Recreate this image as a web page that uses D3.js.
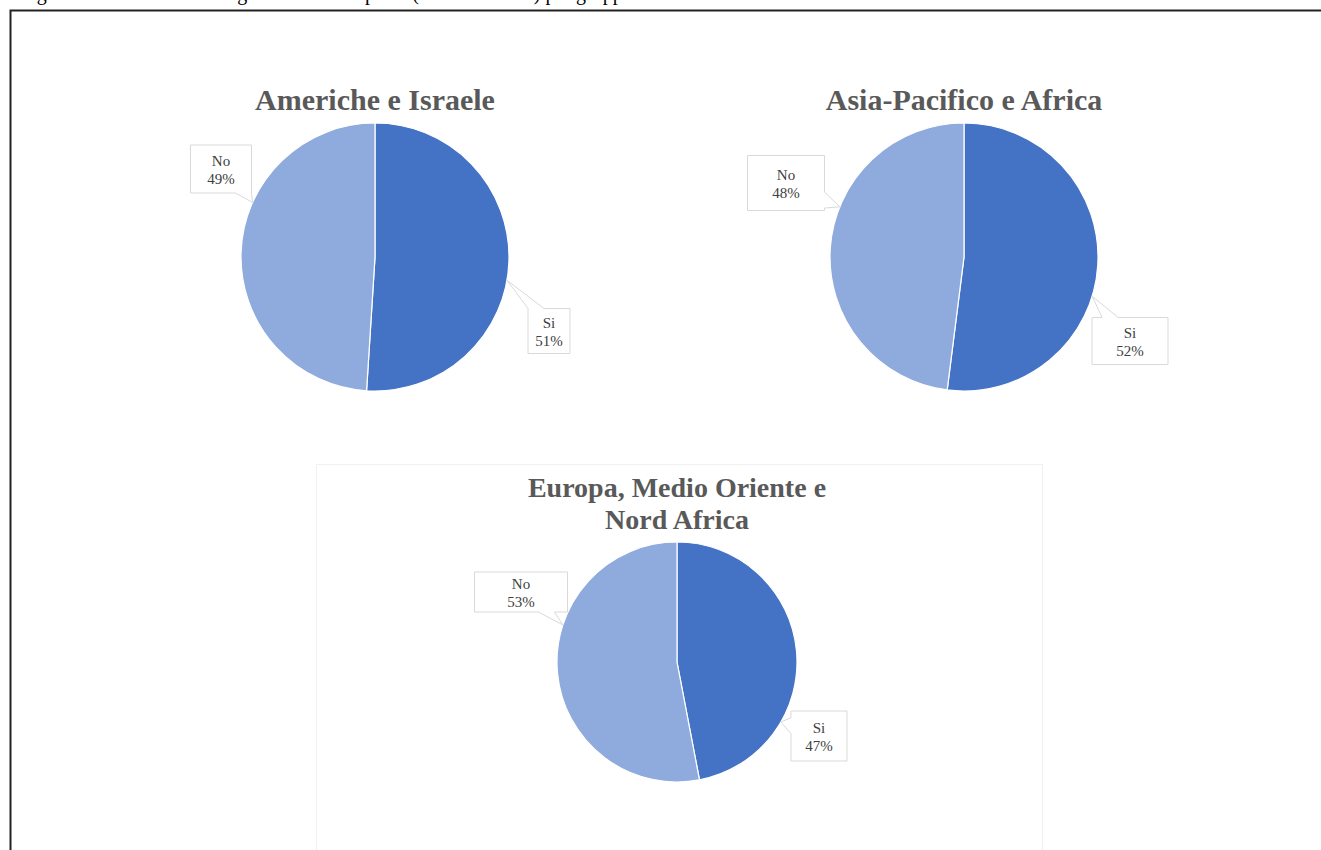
<!DOCTYPE html>
<html>
<head>
<meta charset="utf-8">
<script src="https://cdn.jsdelivr.net/npm/d3@7"></script>
<style>
  body { margin: 0; background: #fff; }
  svg { display: block; }
</style>
</head>
<body>
<div id="chart"></div>
<script>
// data
const regions = ["Americhe e Israele", "Asia-Pacifico e Africa", "Europa, Medio Oriente e Nord Africa"];
const answers = ["Si", "No"];
const siValues = [51, 52, 47];
const noValues = [49, 48, 53];

const caption = "Figura 12: Distribuzione regionale delle risposte (in % sul totale) per gruppo";

const width = 1321,
  height = 850;

// layout of each panel (center, radius, title lines) + callout boxes
const panels = [
  { cx: 375, cy: 257, r: 134, titleY: 110, titleSize: 30, lines: ["Americhe e Israele"],
    labels: [
      { tip: 100, dx: 174, dy: 74, w: 42, h: 45 },
      { tip: 294, dx: -154, dy: -88, w: 61, h: 48 }
    ] },
  { cx: 964, cy: 257, r: 134, titleY: 110, titleSize: 30, lines: ["Asia-Pacifico e Africa"],
    labels: [
      { tip: 107, dx: 166, dy: 84, w: 76, h: 47 },
      { tip: 292, dx: -178, dy: -74, w: 77, h: 55 }
    ] },
  { cx: 677, cy: 662, r: 120, titleY: 497, titleSize: 28, lines: ["Europa, Medio Oriente e", "Nord Africa"],
    labels: [
      { tip: 120, dx: 142, dy: 74, w: 56, h: 50 },
      { tip: 288, dx: -156, dy: -70, w: 93, h: 40 }
    ] }
];

const color = d3.scaleOrdinal()
  .domain(answers)
  .range(["#4472C4", "#8FAADC"]);

const svg = d3.select("#chart")
  .append("svg")
  .attr("width", width)
  .attr("height", height)
  .attr("viewBox", [0, 0, width, height]);

// page caption (cut off at top) and frame
svg.append("text")
  .attr("x", 20)
  .attr("y", 0)
  .attr("font-family", "Liberation Serif, Times New Roman, serif")
  .attr("font-size", 20)
  .attr("fill", "#000")
  .text(caption);

svg.append("path")
  .attr("d", `M10.5,${height} V10.5 H${width}`)
  .attr("fill", "none")
  .attr("stroke", "#222")
  .attr("stroke-width", 2);

// faint frame of the third chart
svg.append("rect")
  .attr("x", 316.5)
  .attr("y", 464.5)
  .attr("width", 726)
  .attr("height", 420)
  .attr("fill", "none")
  .attr("stroke", "#f1f1f1");

const pie = d3.pie().sort(null).value(d => d.value);

// callout box with pointer to the slice edge
function calloutPath(x0, y0, w, h, tx, ty) {
  const x1 = x0 + w, y1 = y0 + h;
  const cx = x0 + w / 2, cy = y0 + h / 2;
  const dx = tx - cx, dy = ty - cy;
  const b = 16;
  if (Math.abs(dx) / (w / 2) > Math.abs(dy) / (h / 2)) {
    let iy = cy + dy * (w / 2) / Math.abs(dx);
    let a = Math.max(y0, Math.min(y1 - b, iy - b / 2));
    if (dx > 0) {
      return `M${x0},${y0}H${x1}V${a}L${tx},${ty}L${x1},${a + b}V${y1}H${x0}Z`;
    }
    return `M${x0},${y0}H${x1}V${y1}H${x0}V${a + b}L${tx},${ty}L${x0},${a}Z`;
  }
  let ix = cx + dx * (h / 2) / Math.abs(dy);
  let a = Math.max(x0, Math.min(x1 - b, ix - b / 2));
  if (dy > 0) {
    return `M${x0},${y0}H${x1}V${y1}H${a + b}L${tx},${ty}L${a},${y1}H${x0}Z`;
  }
  return `M${x0},${y0}H${a}L${tx},${ty}L${a + b},${y0}H${x1}V${y1}H${x0}Z`;
}

regions.forEach((region, i) => {
  const p = panels[i];
  const values = [siValues[i], noValues[i]];
  const data = answers.map((a, j) => ({ answer: a, value: values[j] }));

  const arc = d3.arc().innerRadius(0).outerRadius(p.r);

  const g = svg.append("g")
    .attr("transform", `translate(${p.cx},${p.cy})`);

  g.selectAll("path")
    .data(pie(data))
    .join("path")
    .attr("d", arc)
    .attr("fill", d => color(d.data.answer))
    .attr("stroke", "#fff")
    .attr("stroke-width", 1.2);

  // title
  const title = svg.append("text")
    .attr("x", p.cx)
    .attr("y", p.titleY)
    .attr("text-anchor", "middle")
    .attr("font-family", "Liberation Serif, Times New Roman, serif")
    .attr("font-weight", "bold")
    .attr("font-size", p.titleSize)
    .attr("fill", "#595959");
  p.lines.forEach((l, k) => {
    title.append("tspan")
      .attr("x", p.cx)
      .attr("dy", k === 0 ? 0 : 32)
      .text(l);
  });

  // data labels
  data.forEach((d, j) => {
    const L = p.labels[j];
    const ang = L.tip * Math.PI / 180;
    const tx = Math.sin(ang) * p.r, ty = -Math.cos(ang) * p.r;
    const bx = L.dx - L.w / 2, by = L.dy - L.h / 2;

    g.append("path")
      .attr("d", calloutPath(bx, by, L.w, L.h, tx, ty))
      .attr("fill", "#fff")
      .attr("stroke", "#d9d9d9")
      .attr("stroke-width", 1);

    const t = g.append("text")
      .attr("x", L.dx)
      .attr("y", L.dy - 3)
      .attr("text-anchor", "middle")
      .attr("font-family", "Liberation Serif, Times New Roman, serif")
      .attr("font-size", 15)
      .attr("fill", "#404040");
    t.append("tspan").attr("x", L.dx).attr("dy", 0).text(d.answer);
    t.append("tspan").attr("x", L.dx).attr("dy", 18).text(d.value + "%");
  });
});
</script>
</body>
</html>
